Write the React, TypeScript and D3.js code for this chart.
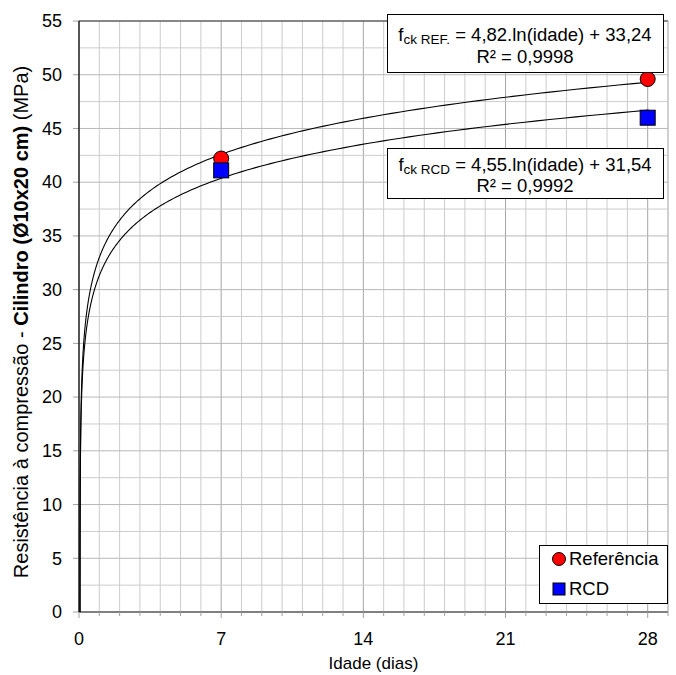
import React from "react";
import * as d3 from "d3";

const W = 676;
const H = 675;

// Data
const ages = [7, 28];
const refValues = [42.2, 49.6];
const rcdValues = [41.1, 46.0];

// Trendline coefficients (a * ln(x) + b)
const refCoef = [4.82, 33.24];
const rcdCoef = [4.55, 31.54];

const xTicks = [0, 7, 14, 21, 28];
const yTicks = [0, 5, 10, 15, 20, 25, 30, 35, 40, 45, 50, 55];

const margin = { left: 79, top: 21, right: 676 - 668, bottom: 675 - 612 };

export default function App() {
  const x = d3.scaleLinear().domain([0, 29]).range([margin.left, W - margin.right]);
  const y = d3.scaleLinear().domain([0, 55]).range([H - margin.bottom, margin.top]);

  const x0 = x.range()[0];
  const x1 = x.range()[1];
  const y0 = y.range()[0];
  const y1 = y.range()[1];

  const minorX = d3.range(0, 30, 1);
  const minorY = d3.range(0, 55.01, 2.5);

  const sampleXs: number[] = [];
  for (let i = 0; i <= 400; i++) {
    sampleXs.push(Math.exp(Math.log(0.0005) + (Math.log(28) - Math.log(0.0005)) * (i / 400)));
  }
  const lineR = d3.line<number>().x((d) => x(d) + 1).y((d) => y(refCoef[0] * Math.log(d) + refCoef[1]));
  const lineC = d3.line<number>().x((d) => x(d) + 1).y((d) => y(rcdCoef[0] * Math.log(d) + rcdCoef[1]));
  const refPath = lineR(sampleXs) || "";
  const rcdPath = lineC(sampleXs) || "";

  const font = "Arial, 'Liberation Sans', Helvetica, sans-serif";

  return (
    <svg width={W} height={H} style={{ display: "block", position: "absolute", left: 0, top: 0 }} fontFamily={font}>
      <defs>
        <clipPath id="plotclip">
          <rect x={x0} y={y1} width={x1 - x0} height={y0 - y1} />
        </clipPath>
      </defs>
      <rect x={0} y={0} width={W} height={H} fill="#fff" />
      {/* grid */}
      {minorX.map((v) => (
        <line key={"gx" + v} x1={x(v)} x2={x(v)} y1={y1} y2={y0} stroke={v % 7 === 0 ? "#a6a6a6" : "#cccccc"} strokeWidth={1} />
      ))}
      {minorY.map((v) => (
        <line key={"gy" + v} x1={x0} x2={x1} y1={y(v)} y2={y(v)} stroke={v % 5 === 0 ? "#b8b8b8" : "#cccccc"} strokeWidth={1} />
      ))}
      {/* plot border */}
      <line x1={x0} x2={x1} y1={y1} y2={y1} stroke="#333" strokeWidth={1} />
      <line x1={x1} x2={x1} y1={y1} y2={y0} stroke="#bbb" strokeWidth={1} />
      {/* axes */}
      <line x1={x0} x2={x1} y1={y0} y2={y0} stroke="#808080" strokeWidth={2} />
      {minorX.map((v) => (
        <line key={"tx" + v} x1={x(v)} x2={x(v)} y1={y0} y2={y0 + (v % 7 === 0 ? 6 : 4)} stroke="#a0a0a0" strokeWidth={1} />
      ))}
      {yTicks.map((v) => (
        <line key={"ty" + v} x1={x0 - 6} x2={x0} y1={y(v)} y2={y(v)} stroke="#a0a0a0" strokeWidth={1} />
      ))}
      <line x1={x0} x2={x0} y1={y1} y2={y0} stroke="#000" strokeWidth={1.2} />
      {/* trendlines */}
      <g clipPath="url(#plotclip)">
        <path d={refPath} fill="none" stroke="#000" strokeWidth={1.1} />
        <path d={rcdPath} fill="none" stroke="#000" strokeWidth={1.1} />
      </g>
      {/* tick labels */}
      {yTicks.map((v) => (
        <text key={"ly" + v} x={x0 - 17} y={y(v)} dy="0.35em" textAnchor="end" fontSize={18} fill="#000">
          {v}
        </text>
      ))}
      {xTicks.map((v) => (
        <text key={"lx" + v} x={x(v)} y={y0 + 27} dy="0.35em" textAnchor="middle" fontSize={18} fill="#000">
          {v}
        </text>
      ))}
      {/* axis titles */}
      <text x={(x0 + x1) / 2} y={663} dy="0.35em" textAnchor="middle" fontSize={17}>
        Idade (dias)
      </text>
      <text transform={`translate(21,322) rotate(-90)`} textAnchor="middle" dy="0.35em" fontSize={20}>
        <tspan>Resistência à compressão - </tspan>
        <tspan fontWeight="bold">Cilindro (Ø10x20 cm)</tspan>
        <tspan> (MPa)</tspan>
      </text>
      {/* points */}
      {ages.map((a, i) => (
        <circle key={"r" + i} cx={x(a)} cy={y(refValues[i])} r={7.5} fill="#ff0000" stroke="#000" strokeWidth={1} />
      ))}
      {ages.map((a, i) => (
        <rect key={"b" + i} x={x(a) - 7.5} y={y(rcdValues[i]) - 7.5} width={15} height={15} fill="#0000ff" stroke="#000" strokeWidth={1} />
      ))}
      {/* equation boxes */}
      <rect x={387.5} y={14.5} width={276} height={58} fill="#fff" stroke="#000" strokeWidth={1} />
      <text x={525} y={41} textAnchor="middle" fontSize={18.5}>
        <tspan>f</tspan>
        <tspan fontSize={13.5} dy={3}>ck REF.</tspan>
        <tspan dy={-3}> = 4,82.ln(idade) + 33,24</tspan>
      </text>
      <text x={525} y={63} textAnchor="middle" fontSize={18.5}>
        R² = 0,9998
      </text>
      <rect x={387.5} y={148.5} width={276} height={50} fill="#fff" stroke="#000" strokeWidth={1} />
      <text x={525} y={171} textAnchor="middle" fontSize={18.5}>
        <tspan>f</tspan>
        <tspan fontSize={13.5} dy={3}>ck RCD</tspan>
        <tspan dy={-3}> = 4,55.ln(idade) + 31,54</tspan>
      </text>
      <text x={525} y={192} textAnchor="middle" fontSize={18.5}>
        R² = 0,9992
      </text>
      {/* legend */}
      <rect x={539.5} y={545.5} width={128} height={58} fill="#fff" stroke="#000" strokeWidth={1} />
      <circle cx={559} cy={559} r={6.5} fill="#ff0000" stroke="#000" strokeWidth={1} />
      <text x={569} y={559} dy="0.35em" fontSize={18.5}>
        Referência
      </text>
      <rect x={553} y={583} width={12} height={12} fill="#0000ff" stroke="#000" strokeWidth={1} />
      <text x={569} y={589} dy="0.35em" fontSize={18.5}>
        RCD
      </text>
    </svg>
  );
}
